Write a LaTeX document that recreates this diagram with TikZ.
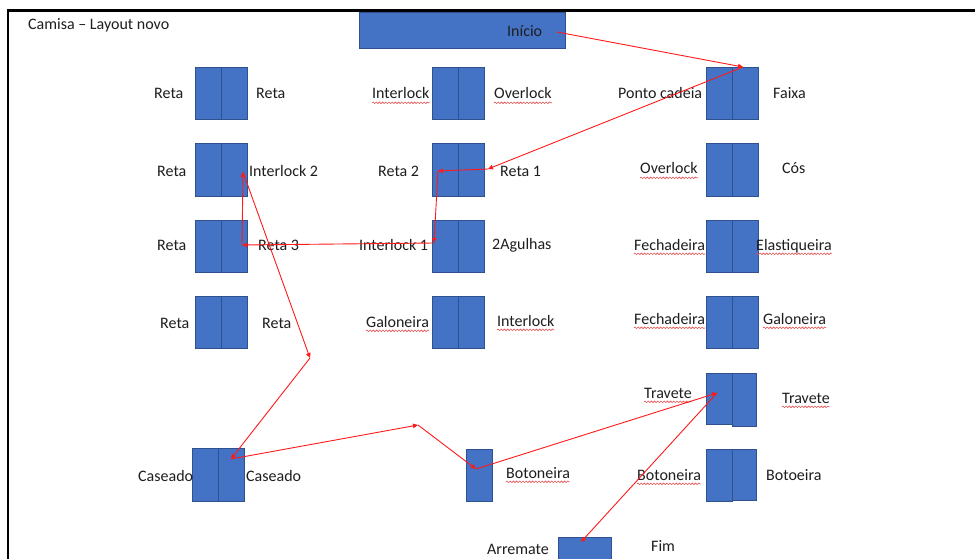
\documentclass[tikz,border=0pt]{standalone}
\usepackage{fontspec}
\setmainfont{Carlito}
\usetikzlibrary{arrows.meta,decorations.pathmorphing}

\definecolor{boxfill}{HTML}{4472C4}
\definecolor{boxline}{HTML}{2F528F}
\definecolor{flow}{HTML}{FF1A1A}
\definecolor{ink}{HTML}{1E1E1E}
\definecolor{squiggle}{HTML}{E85050}

% two machine slots side by side: name, left x, middle y
\newcommand{\stationpair}[3]{%
  \node[half] (#1a) at (#2+13,#3) {};
  \node[half] (#1b) at (#2+39,#3) {};}

\begin{document}
\begin{tikzpicture}[x=1pt,y=-1pt,
  font=\fontsize{16}{19}\selectfont,
  half/.style={rectangle, draw=boxline, fill=boxfill, line width=0.9pt,
    inner sep=0pt, minimum width=26pt, minimum height=52.5pt},
  lbl/.style={anchor=base west, inner sep=0pt, text=ink},
  flowarrow/.style={draw=flow, line width=0.9pt,
    -{Triangle[length=5pt,width=4.5pt]}},
  spell/.style={draw=squiggle, line width=0.6pt, decorate,
    decoration={snake, amplitude=0.8pt, segment length=3.2pt}},
  frameline/.style={draw=black, line width=2.2pt, line join=miter}]

\clip (0,0) rectangle (975,559);
\fill[white] (0,0) rectangle (975,559);

% page frame
\draw[frameline] (8,560) -- (8,10.5) -- (976,10.5);

% title
\node[lbl] (title) at (28,30) {Camisa – Layout novo};

% start bar
\node[half, minimum width=206pt, minimum height=36pt] (startbar) at (462,30) {};
\node[lbl] (inicio) at (507,37) {Início};

% left column
\stationpair{la}{195}{93.5}
\stationpair{lb}{195}{170}
\stationpair{lc}{195}{246.5}
\stationpair{ld}{195}{322.5}
\stationpair{le}{192}{475}

% middle column
\stationpair{ma}{432}{93.5}
\stationpair{mb}{432}{170}
\stationpair{mc}{432}{246.5}
\stationpair{md}{432}{322.5}
\node[half] (botsingle) at (479,475.5) {};

% right column
\stationpair{ra}{706}{93.5}
\stationpair{rb}{706}{170}
\stationpair{rc}{706}{246.5}
\stationpair{rd}{706}{322.5}
\node[half, minimum height=51pt] (rea) at (719,398.5) {};
\node[half, minimum width=24pt, minimum height=53pt] (reb) at (744,399.5) {};
\node[half] (rfa) at (719,475.5) {};
\node[half, minimum width=24pt, minimum height=51pt] (rfb) at (744,474.5) {};

% finishing slot
\node[half, minimum width=53pt, minimum height=52pt] (arrbox) at (584.5,563) {};

% labels, left column
\node[lbl] (tla1) at (154,99) {Reta};
\node[lbl] (tla2) at (256,99) {Reta};
\node[lbl] (tlb1) at (157,177) {Reta};
\node[lbl] (tlb2) at (249,177) {Interlock 2};
\node[lbl] (tlc1) at (157,250) {Reta};
\node[lbl] (tlc2) at (258,250) {Reta 3};
\node[lbl] (tld1) at (160,328) {Reta};
\node[lbl] (tld2) at (262,328) {Reta};
\node[lbl] (tle1) at (138,481) {Caseado};
\node[lbl] (tle2) at (246,481) {Caseado};

% labels, middle column
\node[lbl] (tma1) at (372,99) {Interlock};
\node[lbl] (tma2) at (494,99) {Overlock};
\node[lbl] (tmb1) at (378,177) {Reta 2};
\node[lbl] (tmb2) at (500,177) {Reta 1};
\node[lbl] (tmc1) at (359,250) {Interlock 1};
\node[lbl] (tmc2) at (492,249) {2Agulhas};
\node[lbl] (tmd1) at (366,327) {Galoneira};
\node[lbl] (tmd2) at (497,326) {Interlock};
\node[lbl] (tbot) at (506,478) {Botoneira};

% labels, right column
\node[lbl] (tra1) at (618,99) {Ponto cadeia};
\node[lbl] (tra2) at (773,99) {Faixa};
\node[lbl] (trb1) at (640,174) {Overlock};
\node[lbl] (trb2) at (782,174) {Cós};
\node[lbl] (trc1) at (634,250) {Fechadeira};
\node[lbl] (trc2) at (756,250) {Elastiqueira};
\node[lbl] (trd1) at (634,324) {Fechadeira};
\node[lbl] (trd2) at (763,324) {Galoneira};
\node[lbl] (tre1) at (644,398) {Travete};
\node[lbl] (tre2) at (782,403) {Travete};
\node[lbl] (trf1) at (637,480) {Botoneira};
\node[lbl] (trf2) at (766,480) {Botoeira};

% end of line
\node[lbl] (tarr) at (487,554) {Arremate};
\node[lbl] (tfim) at (651,551) {Fim};

% spell-check squiggles
\foreach \w in {tma1,tma2,tmd1,tmd2,tbot,trb1,trc1,trc2,trd1,trd2,tre1,tre2,trf1}
  \draw[spell] ([yshift=-3.8pt]\w.base west) -- ([yshift=-3.8pt]\w.base east);

% route waypoints
\coordinate (go0) at (557,32);
\coordinate (go1) at (743,67);
\coordinate (go2) at (488,169);
\coordinate (go3) at (438,171);
\coordinate (go4) at (434,243);
\coordinate (go5) at (242,245);
\coordinate (go6) at (243,172);
\coordinate (go7) at (310,358);
\coordinate (go8) at (231,459);
\coordinate (go9) at (418,425);
\coordinate (go10) at (476,469);
\coordinate (go11) at (717,393);
\coordinate (go12) at (581,542);

% sewing route
\draw[flowarrow] (go0) -- (go1);
\draw[flowarrow] (go1) -- (go2);
\draw[flowarrow] (go2) -- (go3);
\draw[flowarrow] (go3) -- (go4);
\draw[flowarrow] (go4) -- (go5);
\draw[flowarrow] (go5) -- (go6);
\draw[flowarrow] (go6) -- (go7);
\draw[flowarrow] (go7) -- (go8);
\draw[flowarrow] (go8) -- (go9);
\draw[flowarrow] (go9) -- (go10);
\draw[flowarrow] (go10) -- (go11);
\draw[flowarrow] (go11) -- (go12);
\end{tikzpicture}
\end{document}
